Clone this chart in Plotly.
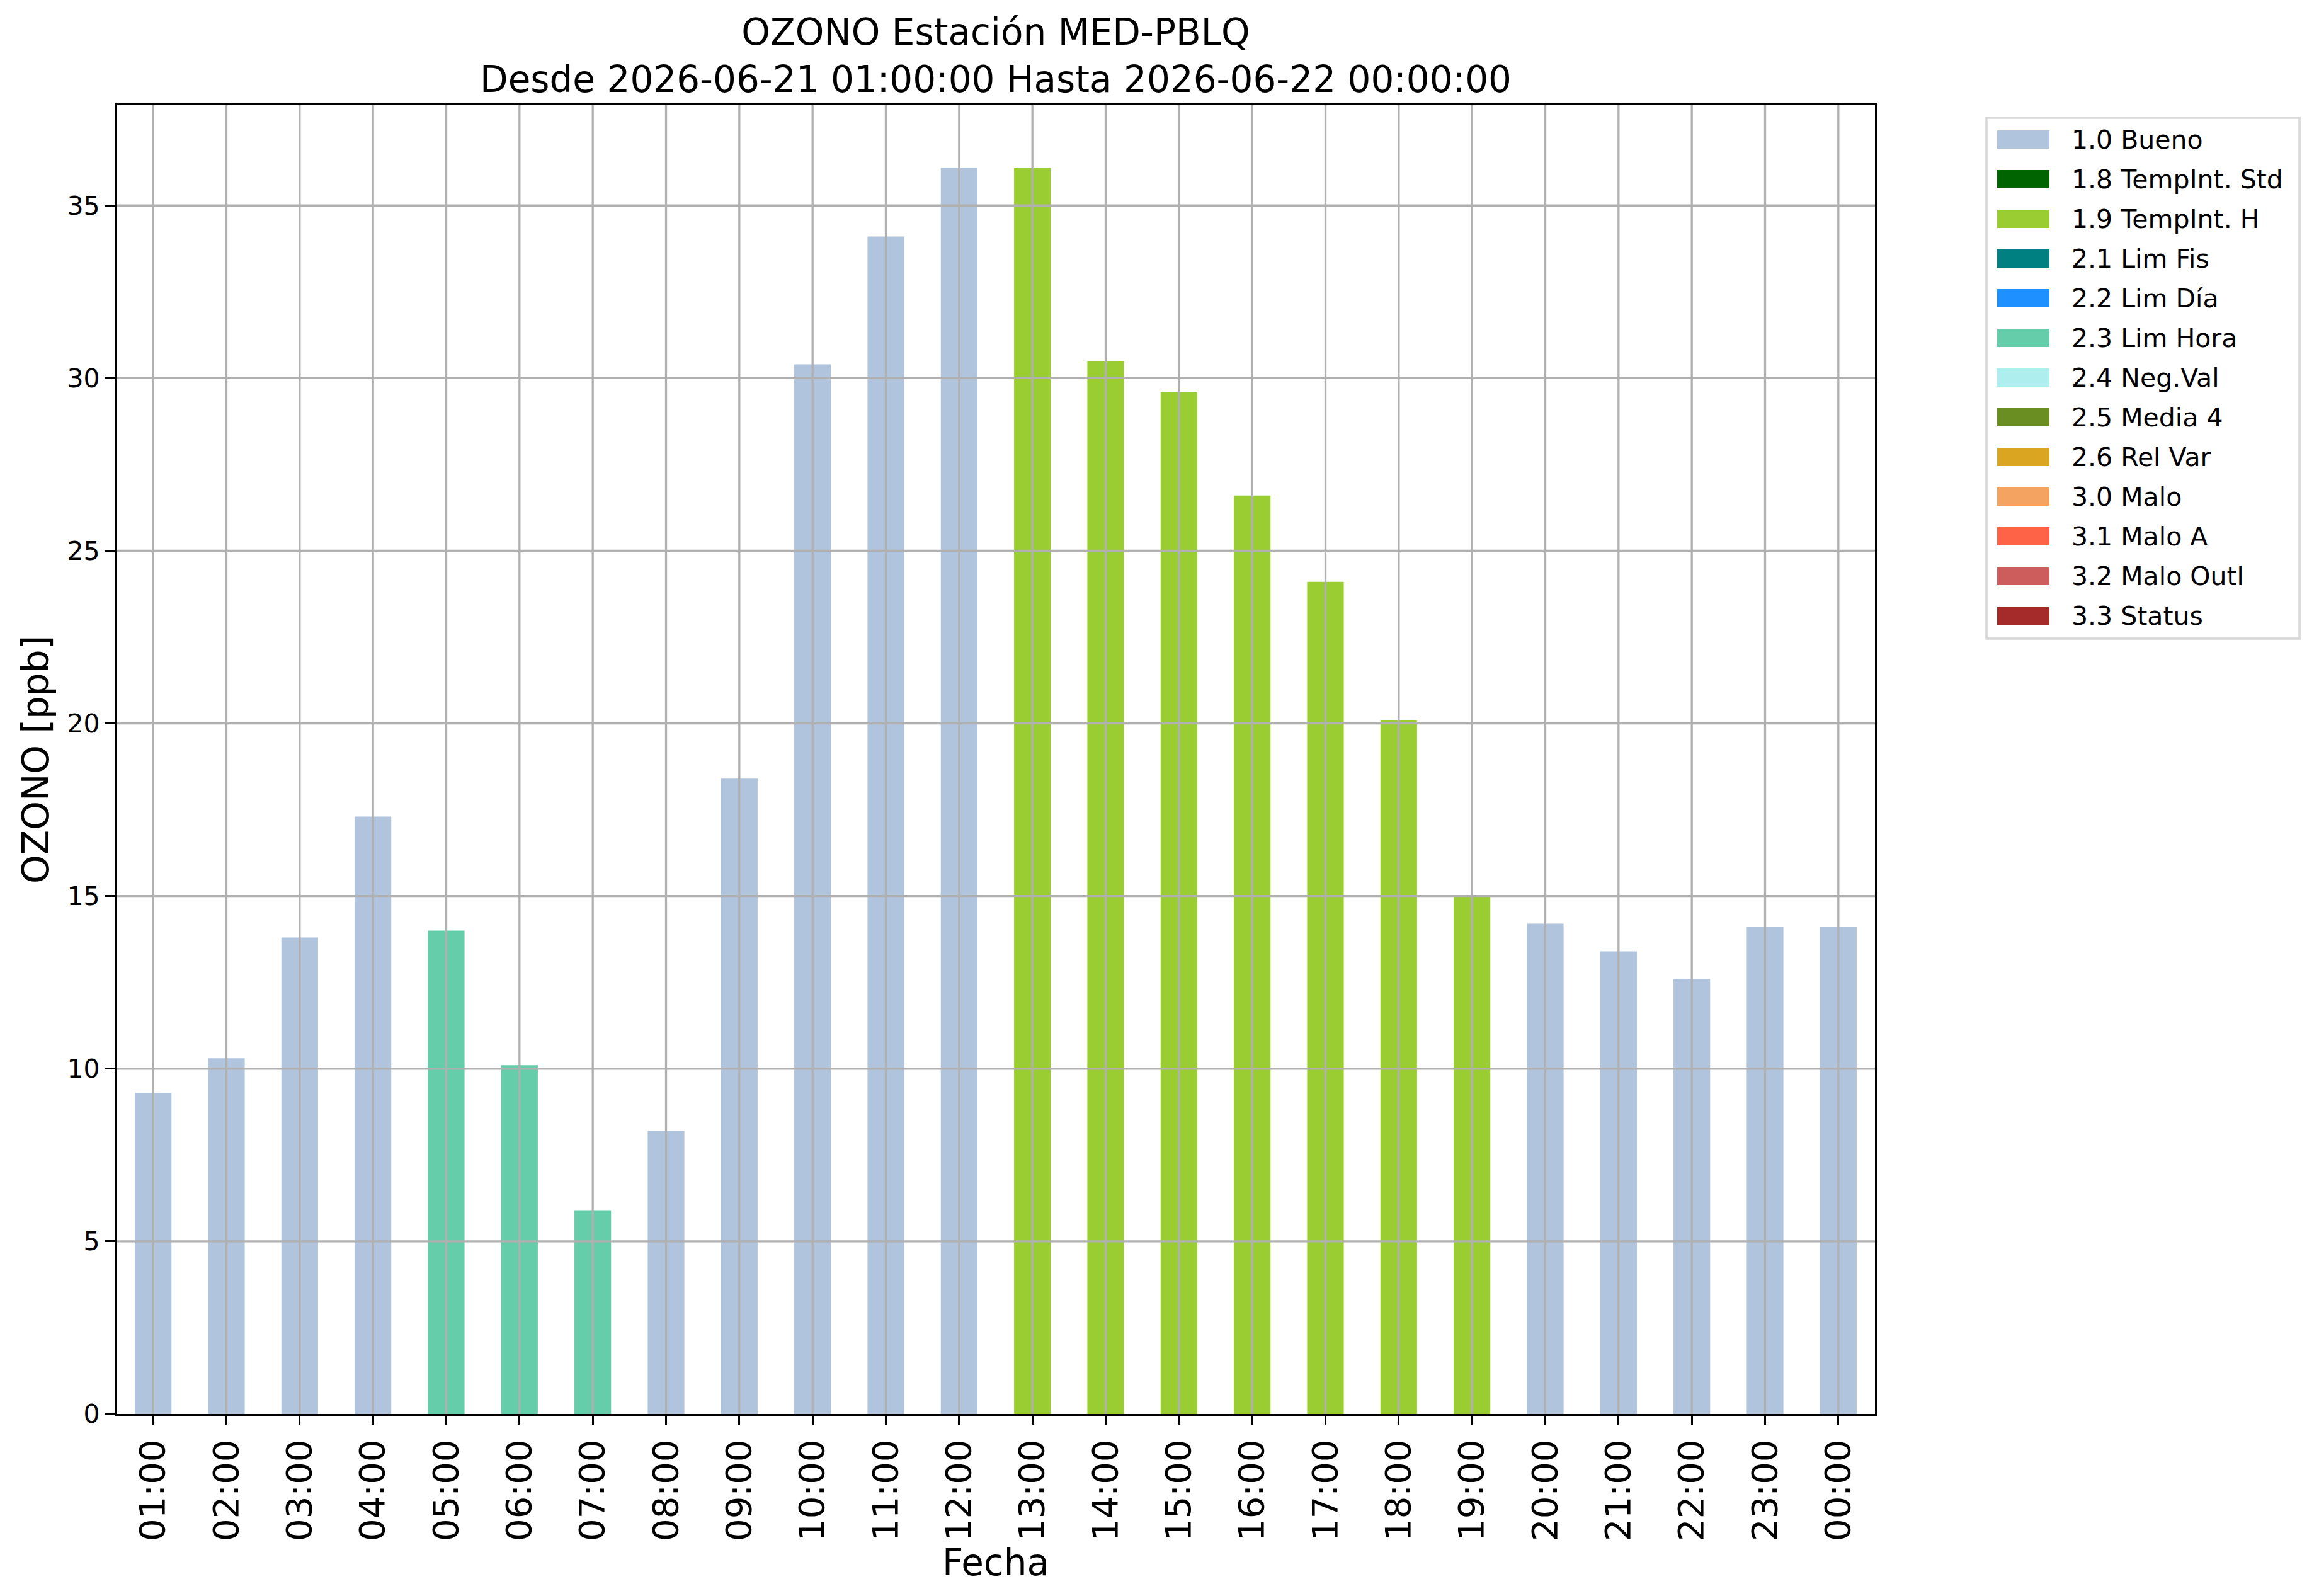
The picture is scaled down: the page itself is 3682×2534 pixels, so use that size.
import plotly.graph_objects as go

# datos de la estación
horas = ["01:00", "02:00", "03:00", "04:00", "05:00", "06:00", "07:00", "08:00",
         "09:00", "10:00", "11:00", "12:00", "13:00", "14:00", "15:00", "16:00",
         "17:00", "18:00", "19:00", "20:00", "21:00", "22:00", "23:00", "00:00"]
ozono = [9.3, 10.3, 13.8, 17.3, 14.0, 10.1, 5.9, 8.2, 18.4, 30.4, 34.1, 36.1,
         36.1, 30.5, 29.6, 26.6, 24.1, 20.1, 15.0, 14.2, 13.4, 12.6, 14.1, 14.1]
flags = ["1.0 Bueno"] * 4 + ["2.3 Lim Hora"] * 3 + ["1.0 Bueno"] * 5 + \
        ["1.9 TempInt. H"] * 7 + ["1.0 Bueno"] * 5

flag_labels = ["1.0 Bueno", "1.8 TempInt. Std", "1.9 TempInt. H", "2.1 Lim Fis",
               "2.2 Lim Día", "2.3 Lim Hora", "2.4 Neg.Val", "2.5 Media 4",
               "2.6 Rel Var", "3.0 Malo", "3.1 Malo A", "3.2 Malo Outl", "3.3 Status"]
flag_colors = ["#B0C4DE", "#006400", "#9ACD32", "#008080", "#1E90FF", "#66CDAA",
               "#AFEEEE", "#6B8E23", "#DAA520", "#F4A460", "#FF6347", "#CD5C5C",
               "#A52A2A"]
y_ticks = [0, 5, 10, 15, 20, 25, 30, 35]

titulo = "OZONO Estación MED-PBLQ<br>Desde 2026-06-21 01:00:00 Hasta 2026-06-22 00:00:00"

# tamaño de la figura y margenes (px)
W, H = 3682, 2534
L, R, T, B = 185, 705, 167, 289
PW, PH = W - L - R, H - T - B
FONT = "DejaVu Sans"
SMALL, BIG = 41, 58


def px_x(px):
    return (px - L) / PW


def px_y(py):
    return (H - B - py) / PH


fig = go.Figure()

# una traza por flag usado
for lab, col in zip(flag_labels, flag_colors):
    xs = [h for h, f in zip(horas, flags) if f == lab]
    ys = [v for v, f in zip(ozono, flags) if f == lab]
    if not xs:
        continue
    fig.add_trace(go.Bar(x=xs, y=ys, name=lab, marker_color=col,
                         marker_line_width=0, width=0.5, showlegend=False))

# rejilla por encima de las barras, como en matplotlib
for i in range(len(horas)):
    fig.add_vline(x=i, line_color="#b0b0b0", line_width=3.3, layer="above")
for v in y_ticks[1:]:
    fig.add_hline(y=v, line_color="#b0b0b0", line_width=3.3, layer="above")

# leyenda dibujada a mano (patches rectangulares)
shapes = [dict(type="rect", xref="paper", yref="paper",
               x0=px_x(3154), x1=px_x(3651), y0=px_y(1014), y1=px_y(187),
               line=dict(color="#d6d6d6", width=3.5), fillcolor="white")]
annotations = []
for i, (lab, col) in enumerate(zip(flag_labels, flag_colors)):
    top = 207 + 63 * i
    shapes.append(dict(type="rect", xref="paper", yref="paper",
                       x0=px_x(3171), x1=px_x(3254), y0=px_y(top + 29), y1=px_y(top),
                       line_width=0, fillcolor=col))
    annotations.append(dict(text=lab, xref="paper", yref="paper",
                            x=px_x(3287), y=px_y(top + 15), xanchor="left",
                            yanchor="middle", showarrow=False,
                            font=dict(family=FONT, size=SMALL, color="black")))

fig.update_layout(
    width=W, height=H,
    margin=dict(l=L, r=R, t=T, b=B, pad=0),
    paper_bgcolor="white", plot_bgcolor="white",
    barmode="overlay",
    font=dict(family=FONT, color="black", size=SMALL),
    title=dict(text=titulo, x=0.5, xref="paper", xanchor="center",
               y=1 - 71 / H, yref="container", yanchor="middle",
               font=dict(family=FONT, size=BIG, color="black")),
    shapes=list(fig.layout.shapes) + shapes,
    annotations=annotations,
)

fig.update_xaxes(
    type="category", categoryorder="array", categoryarray=horas,
    range=[-0.5, len(horas) - 0.5],
    tickangle=-90, tickfont=dict(size=56),
    ticks="outside", ticklen=15, tickwidth=3.3, tickcolor="black",
    showline=True, linecolor="black", linewidth=3.3, mirror=True,
    showgrid=False, zeroline=False,
    title=dict(text="Fecha", font=dict(size=BIG), standoff=0),
)
fig.update_yaxes(
    range=[0, max(ozono) * 1.05], tickvals=y_ticks,
    tickfont=dict(size=SMALL),
    ticks="outside", ticklen=15, tickwidth=3.3, tickcolor="black",
    showline=True, linecolor="black", linewidth=3.3, mirror=True,
    showgrid=False, zeroline=False,
    title=dict(text="OZONO [ppb]", font=dict(size=BIG), standoff=11),
)

# sin margen del body para que la figura ocupe la ventana exacta
fig.write_html("out.html", config={"displayModeBar": False},
               post_script="document.body.style.margin = '0';")
